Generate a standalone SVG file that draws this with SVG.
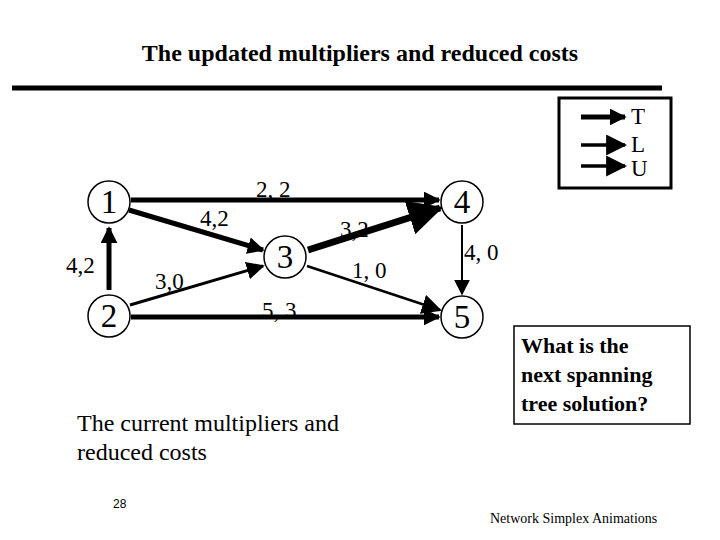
<svg xmlns="http://www.w3.org/2000/svg" width="720" height="540" viewBox="0 0 720 540">
<style>
.n{fill:#fff;stroke:#000;stroke-width:1.5}
.nt{font-family:"Liberation Serif",serif;font-size:33px;text-anchor:middle}
.el{font-family:"Liberation Serif",serif;font-size:23px}
.e{stroke:#000;fill:none}
</style>
<defs>
<marker id="a" viewBox="0 0 10 10" refX="9" refY="5" markerWidth="5" markerHeight="5" markerUnits="strokeWidth" orient="auto"><path d="M0,0L10,5L0,10z"/></marker>
<marker id="b" viewBox="0 0 10 10" refX="9" refY="5" markerWidth="3.4" markerHeight="3.4" markerUnits="strokeWidth" orient="auto"><path d="M0,0L10,5L0,10z"/></marker>
<marker id="c" viewBox="0 0 10 10" refX="9" refY="5" markerWidth="6" markerHeight="6" markerUnits="strokeWidth" orient="auto"><path d="M0,0L10,5L0,10z"/></marker>
<marker id="d" viewBox="0 0 10 10" refX="9" refY="5" markerWidth="8" markerHeight="8" markerUnits="strokeWidth" orient="auto"><path d="M0,0L10,5L0,10z"/></marker>
</defs>
<rect width="720" height="540" fill="#fff"/>
<text x="360" y="61" text-anchor="middle" font-family="Liberation Serif,serif" font-weight="bold" font-size="24">The updated multipliers and reduced costs</text>
<line x1="12" y1="88" x2="662" y2="88" stroke="#000" stroke-width="5"/>
<g id="legend">
<rect x="559" y="98" width="112" height="90" fill="#fff" stroke="#000" stroke-width="3"/>
<line x1="581" y1="117" x2="625" y2="117" class="e" stroke-width="5" marker-end="url(#b)"/>
<line x1="581" y1="145" x2="625" y2="145" class="e" stroke-width="3.5" marker-end="url(#c)"/>
<line x1="581" y1="166" x2="625" y2="166" class="e" stroke-width="3.5" marker-end="url(#c)"/>
<text x="631" y="124" class="el" font-size="23">T</text>
<text x="631" y="152" class="el" font-size="23">L</text>
<text x="631" y="176" class="el" font-size="23">U</text>
</g>
<g id="connectors">
<line x1="131" y1="200" x2="439" y2="200" class="e" stroke-width="5" marker-end="url(#b)"/>
<line x1="129" y1="210" x2="263" y2="250" class="e" stroke-width="5" marker-end="url(#b)"/>
<line x1="308" y1="250" x2="440" y2="208" class="e" stroke-width="7" marker-end="url(#a)"/>
<line x1="109" y1="290" x2="109" y2="228" class="e" stroke-width="5" marker-end="url(#b)"/>
<line x1="130" y1="305" x2="263" y2="266" class="e" stroke-width="3" marker-end="url(#c)"/>
<line x1="307" y1="266" x2="440" y2="310" class="e" stroke-width="2.5" marker-end="url(#d)"/>
<line x1="462" y1="225" x2="462" y2="294" class="e" stroke-width="2" marker-end="url(#d)"/>
<line x1="131" y1="317" x2="439" y2="317" class="e" stroke-width="5" marker-end="url(#b)"/>
</g>
<g id="n1"><circle cx="109" cy="202" r="21" class="n"/><text x="109" y="213" class="nt">1</text></g>
<g id="n2"><circle cx="109" cy="316" r="21" class="n"/><text x="109" y="327" class="nt">2</text></g>
<g id="n3"><circle cx="285" cy="257" r="21" class="n"/><text x="285" y="268" class="nt">3</text></g>
<g id="n4"><circle cx="462" cy="202" r="21" class="n"/><text x="462" y="213" class="nt">4</text></g>
<g id="n5"><circle cx="462" cy="317" r="21" class="n"/><text x="462" y="328" class="nt">5</text></g>
<g id="labels">
<text x="256" y="197" class="el">2, 2</text>
<text x="200" y="226" class="el">4,2</text>
<text x="340" y="237" class="el">3,2</text>
<text x="66" y="273" class="el">4,2</text>
<text x="155" y="289" class="el">3,0</text>
<text x="352" y="278" class="el">1, 0</text>
<text x="464" y="260" class="el">4, 0</text>
<text x="262" y="318" class="el">5, 3</text>
</g>
<g id="question">
<rect x="514" y="326" width="176" height="98" fill="#fff" stroke="#000" stroke-width="1.5"/>
<text font-family="Liberation Serif,serif" font-weight="bold" font-size="22"><tspan x="521" y="353">What is the</tspan><tspan x="521" y="382">next spanning</tspan><tspan x="521" y="411">tree solution?</tspan></text>
</g>
<text font-family="Liberation Serif,serif" font-size="24"><tspan x="77" y="431">The current multipliers and</tspan><tspan x="77" y="460">reduced costs</tspan></text>
<text x="113" y="508" font-family="Liberation Sans,sans-serif" font-size="12">28</text>
<text x="490" y="523" font-family="Liberation Serif,serif" font-size="14">Network Simplex Animations</text>
</svg>
